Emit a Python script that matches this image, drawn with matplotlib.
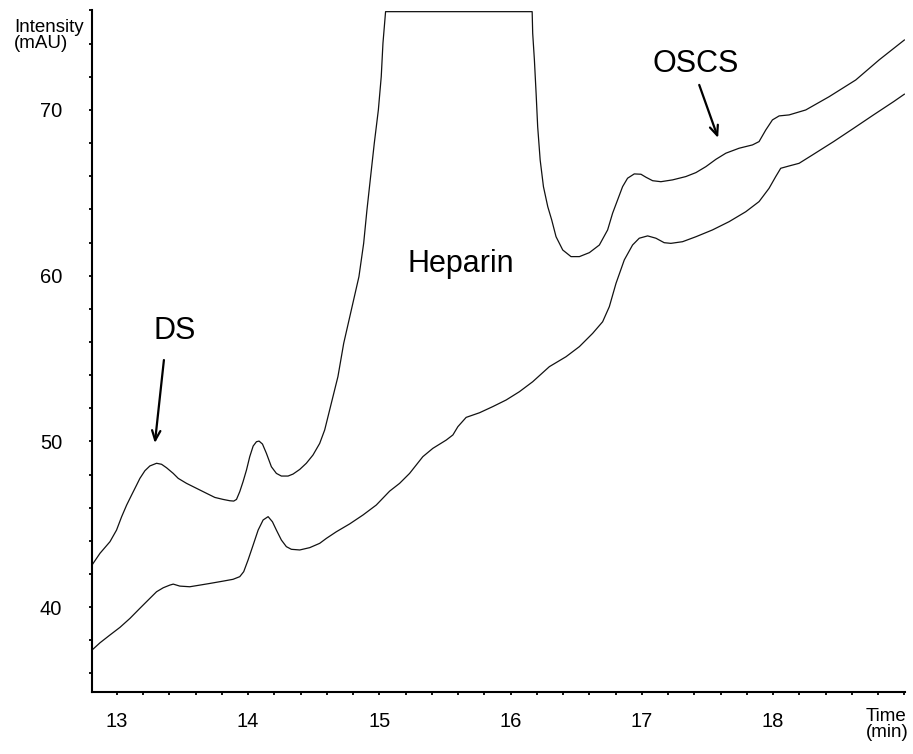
import matplotlib
matplotlib.use("Agg")
import matplotlib.pyplot as plt
from matplotlib.ticker import MultipleLocator

# Chromatogram traces (time in min, intensity in mAU)
upper_time = [12.81, 12.871, 12.947, 12.997, 13.036, 13.074, 13.112, 13.150, 13.175,
              13.213, 13.251, 13.302, 13.340, 13.378, 13.429, 13.467, 13.530, 13.606,
              13.682, 13.746, 13.809, 13.860, 13.890, 13.911, 13.936, 13.961, 13.987,
              14.012, 14.038, 14.063, 14.083, 14.109, 14.139, 14.177, 14.215, 14.253,
              14.304, 14.342, 14.393, 14.443, 14.494, 14.545, 14.583, 14.684, 14.728,
              14.786, 14.844, 14.880, 14.905, 14.933, 14.961, 14.992, 15.014, 15.027,
              15.047, 16.164, 16.168, 16.181, 16.194, 16.206, 16.225, 16.250, 16.283,
              16.313, 16.346, 16.397, 16.460, 16.524, 16.600, 16.676, 16.739, 16.777,
              16.815, 16.853, 16.891, 16.942, 16.993, 17.031, 17.082, 17.145, 17.234,
              17.335, 17.412, 17.488, 17.564, 17.640, 17.741, 17.843, 17.893, 17.944,
              17.995, 18.046, 18.122, 18.249, 18.427, 18.630, 18.808, 19.0]
upper_signal = [42.54, 43.25, 43.95, 44.65, 45.46, 46.16, 46.77, 47.37, 47.77,
                48.23, 48.52, 48.68, 48.62, 48.41, 48.07, 47.77, 47.47, 47.17,
                46.87, 46.62, 46.50, 46.42, 46.40, 46.50, 46.97, 47.57, 48.27,
                49.08, 49.72, 49.98, 50.02, 49.84, 49.28, 48.47, 48.07, 47.91,
                47.91, 48.03, 48.31, 48.68, 49.18, 49.88, 50.69, 53.91, 55.92,
                57.93, 59.94, 61.95, 63.96, 65.98, 67.99, 70.00, 72.01, 74.02,
                75.93, 75.93, 74.63, 73.02, 71.01, 68.99, 66.98, 65.37, 64.16,
                63.36, 62.35, 61.55, 61.15, 61.15, 61.39, 61.85, 62.76, 63.77,
                64.57, 65.37, 65.88, 66.14, 66.12, 65.94, 65.73, 65.67, 65.78,
                65.98, 66.22, 66.58, 67.02, 67.39, 67.69, 67.89, 68.09, 68.79,
                69.40, 69.64, 69.70, 70.00, 70.80, 71.81, 73.02, 74.22]

lower_time = [12.81, 12.871, 12.947, 13.023, 13.099, 13.175, 13.251, 13.302, 13.353,
              13.403, 13.429, 13.479, 13.555, 13.632, 13.708, 13.809, 13.885, 13.936,
              13.966, 13.999, 14.038, 14.076, 14.114, 14.152, 14.185, 14.215, 14.253,
              14.291, 14.329, 14.393, 14.469, 14.545, 14.596, 14.672, 14.773, 14.875,
              14.976, 15.078, 15.154, 15.230, 15.331, 15.407, 15.509, 15.560, 15.598,
              15.661, 15.763, 15.864, 15.966, 16.067, 16.168, 16.295, 16.422, 16.524,
              16.625, 16.701, 16.752, 16.803, 16.866, 16.929, 16.980, 17.044, 17.107,
              17.170, 17.221, 17.310, 17.412, 17.538, 17.665, 17.792, 17.893, 17.969,
              18.020, 18.058, 18.122, 18.198, 18.299, 18.461, 18.613, 18.765, 18.918,
              19.0]
lower_signal = [37.41, 37.85, 38.32, 38.78, 39.32, 39.93, 40.53, 40.93, 41.17,
                41.33, 41.39, 41.27, 41.23, 41.33, 41.43, 41.57, 41.68, 41.84,
                42.14, 42.84, 43.75, 44.65, 45.26, 45.46, 45.15, 44.65, 44.05,
                43.65, 43.49, 43.45, 43.59, 43.85, 44.15, 44.55, 45.02, 45.56,
                46.16, 47.00, 47.47, 48.07, 49.08, 49.58, 50.08, 50.39, 50.89,
                51.45, 51.73, 52.10, 52.50, 53.00, 53.60, 54.51, 55.11, 55.72,
                56.52, 57.22, 58.13, 59.54, 60.95, 61.85, 62.26, 62.40, 62.26,
                61.99, 61.95, 62.05, 62.35, 62.76, 63.26, 63.86, 64.47, 65.27,
                65.98, 66.48, 66.62, 66.78, 67.28, 68.09, 68.89, 69.70, 70.50,
                70.95]

x_major = [13, 14, 15, 16, 17, 18]
y_major = [40, 50, 60, 70]

# Peak annotations: (label, text position, arrow tail, arrow head)
ds_label = ("DS", (13.438, 56.18), (13.358, 54.91), (13.289, 49.90))
heparin_label = ("Heparin", (15.618, 60.22))
oscs_label = ("OSCS", (17.410, 72.29), (17.437, 71.51), (17.581, 68.31))

plt.rcParams["font.family"] = ["Liberation Sans", "DejaVu Sans"]

fig = plt.figure(figsize=(9.13, 7.54), dpi=100)
ax = fig.add_axes([92 / 913, 1 - 692 / 754, (905 - 92) / 913, (692 - 10) / 754])

ax.plot(upper_time, upper_signal, color="#111111", lw=0.9)
ax.plot(lower_time, lower_signal, color="#111111", lw=0.9)

ax.set_xlim(12.81, 19.005)
ax.set_ylim(34.88, 76.03)

for side in ("top", "right"):
    ax.spines[side].set_visible(False)
for side in ("left", "bottom"):
    ax.spines[side].set_linewidth(1.5)

ax.set_xticks(x_major)
ax.set_xticklabels([str(v) for v in x_major])
ax.set_yticks(y_major)
ax.set_yticklabels([str(v) for v in y_major])
ax.xaxis.set_minor_locator(MultipleLocator(0.2))
ax.yaxis.set_minor_locator(MultipleLocator(2))
ax.tick_params(axis="both", which="both", direction="out", length=2.5, width=1.3,
               color="black")
ax.tick_params(axis="x", which="major", labelsize=14.5, pad=12)
ax.tick_params(axis="y", which="major", labelsize=14.5, pad=19)

# Peak labels and arrows
for label in (ds_label, heparin_label, oscs_label):
    ax.text(*label[1], label[0], ha="center", va="baseline", fontsize=22)

arrow_style = dict(arrowstyle="->,head_length=0.7,head_width=0.3", color="black",
                   lw=1.6, shrinkA=0, shrinkB=0)
ax.annotate("", xy=ds_label[3], xytext=ds_label[2], arrowprops=arrow_style)
ax.annotate("", xy=oscs_label[3], xytext=oscs_label[2], arrowprops=arrow_style)

# Axis titles
fig.text(14 / 913, 1 - 19 / 754, "Intensity\n(mAU)", ha="left", va="top",
         fontsize=13.5, linespacing=0.95)
fig.text(866 / 913, 1 - 708 / 754, "Time\n(min)", ha="left", va="top",
         fontsize=13.5, linespacing=0.95)

fig.savefig("out.png", dpi=100)
